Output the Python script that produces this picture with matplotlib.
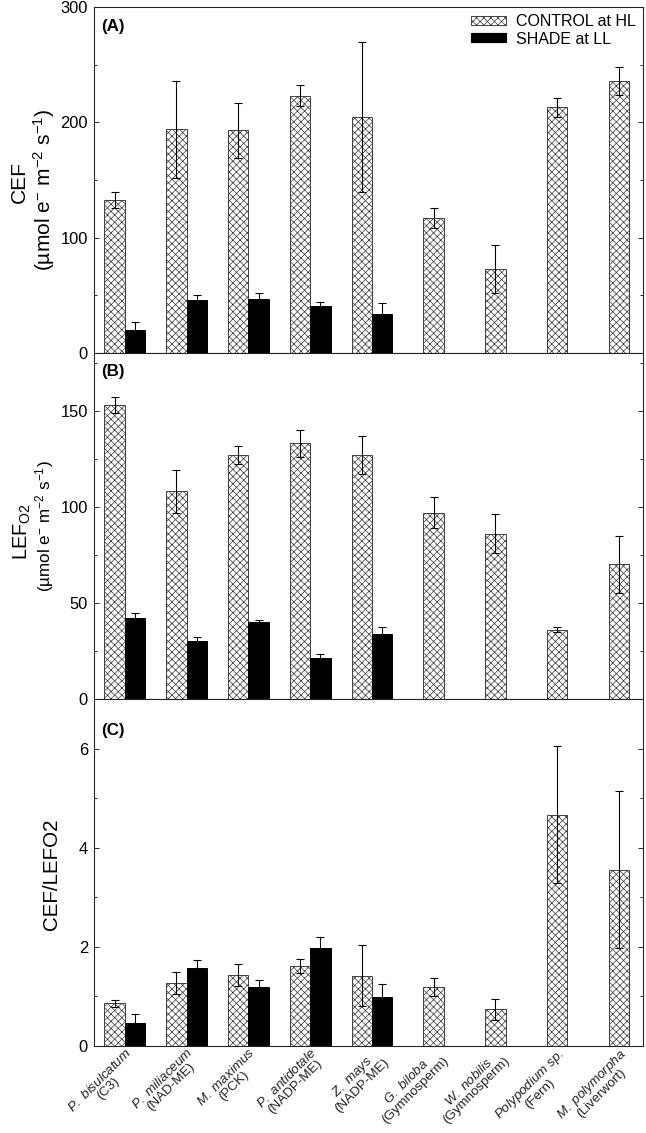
import matplotlib
matplotlib.use('Agg')
import matplotlib.pyplot as plt
from matplotlib.patches import Patch
from matplotlib.ticker import MultipleLocator
import numpy as np

DPI = 86
W, H = 646, 1133


def pt(px):
    return px * 72.0 / DPI


plt.rcParams['font.family'] = ['Liberation Sans', 'DejaVu Sans']
plt.rcParams['mathtext.fontset'] = 'custom'
plt.rcParams['mathtext.rm'] = 'Liberation Sans'
plt.rcParams['mathtext.it'] = 'Liberation Sans:italic'
plt.rcParams['mathtext.bf'] = 'Liberation Sans:bold'
plt.rcParams['hatch.linewidth'] = 0.6

# ---------------- data ----------------
species = ["P. bisulcatum", "P. miliaceum", "M. maximus", "P. antidotale", "Z. mays",
           "G. biloba", "W. nobilis", "Polypodium sp.", "M. polymorpha"]
groups = ["(C3)", "(NAD-ME)", "(PCK)", "(NADP-ME)", "(NADP-ME)",
          "(Gymnosperm)", "(Gymnosperm)", "(Fern)", "(Liverwort)"]

cef_control = [133, 194, 193, 223, 205, 117, 73, 213, 236]
cef_control_err = [7, 42, 24, 9, 65, 9, 21, 8, 12]
cef_shade = [20, 46, 47, 41, 34]
cef_shade_err = [7, 4.5, 5, 3, 9]

lef_control = [153, 108, 127, 133, 127, 97, 86, 36, 70]
lef_control_err = [4, 11, 4.5, 7, 10, 8, 10, 1.4, 15]
lef_shade = [42, 30, 40, 21.5, 34]
lef_shade_err = [3, 2.3, 1, 2, 3.5]

ratio_control = [0.86, 1.27, 1.43, 1.61, 1.42, 1.19, 0.74, 4.67, 3.56]
ratio_control_err = [0.07, 0.22, 0.22, 0.14, 0.61, 0.19, 0.21, 1.38, 1.59]
ratio_shade = [0.46, 1.57, 1.19, 1.97, 0.99]
ratio_shade_err = [0.18, 0.17, 0.14, 0.22, 0.27]

legend_labels = ["CONTROL at HL", "SHADE at LL"]

# ---------------- figure ----------------
fig = plt.figure(figsize=(W / DPI, H / DPI), dpi=DPI)

left_px, right_px = 94, 643
panel_px = [(7, 353), (353, 699), (699, 1046)]
axes = []
for top, bot in panel_px:
    ax = fig.add_axes([left_px / W, 1 - bot / H, (right_px - left_px) / W, (bot - top) / H])
    axes.append(ax)

bw = 0.33
HATCH_C = '#3c3c3c'
HATCH = 'xxxx'


def draw_panel(ax, ctrl, ctrl_err, shade, shade_err):
    n = len(ctrl)
    ns = len(shade)
    idx = np.arange(n)
    xc = np.where(idx < ns, idx - bw / 2, idx).astype(float)
    xs = np.arange(ns) + bw / 2
    ax.bar(xc, ctrl, width=bw, facecolor='white', edgecolor=HATCH_C, hatch=HATCH,
           linewidth=0.8, zorder=2)
    ax.bar(xs, shade, width=bw, facecolor='black', edgecolor='black',
           linewidth=0.8, zorder=2)
    ax.errorbar(xc, ctrl, yerr=ctrl_err, fmt='none', ecolor='black', elinewidth=0.9,
                capsize=pt(3.8), capthick=0.9, zorder=3)
    ax.errorbar(xs, shade, yerr=shade_err, fmt='none', ecolor='black', elinewidth=0.9,
                capsize=pt(3.8), capthick=0.9, zorder=3)
    ax.set_xlim(-0.5, 8.39)
    for s in ax.spines.values():
        s.set_linewidth(0.9)
        s.set_color('#222222')
    ax.tick_params(which='both', direction='in', left=True, right=True,
                   bottom=False, top=False, labelsize=pt(16.5), colors='#222222',
                   width=0.8)
    ax.tick_params(which='major', length=pt(5), pad=pt(6))
    ax.tick_params(which='minor', length=pt(3))
    ax.tick_params(axis='y', labelcolor='black')


draw_panel(axes[0], cef_control, cef_control_err, cef_shade, cef_shade_err)
draw_panel(axes[1], lef_control, lef_control_err, lef_shade, lef_shade_err)
draw_panel(axes[2], ratio_control, ratio_control_err, ratio_shade, ratio_shade_err)

axes[0].set_ylim(0, 300)
axes[0].yaxis.set_major_locator(MultipleLocator(100))
axes[0].yaxis.set_minor_locator(MultipleLocator(50))
axes[1].set_ylim(0, 180)
axes[1].yaxis.set_major_locator(MultipleLocator(50))
axes[1].yaxis.set_minor_locator(MultipleLocator(25))
axes[2].set_ylim(0, 7)
axes[2].yaxis.set_major_locator(MultipleLocator(2))
axes[2].yaxis.set_minor_locator(MultipleLocator(1))

for ax in axes[:2]:
    ax.set_xticks([])

# x tick labels on bottom panel
xlabels = ["$\\mathit{" + s.replace(" ", "\\ ") + "}$\n" + g for s, g in zip(species, groups)]
axes[2].set_xticks(np.arange(len(species)))
axes[2].set_xticklabels(xlabels, rotation=45, ha='right', rotation_mode='anchor',
                        multialignment='center', fontsize=pt(13.4), linespacing=0.88)
axes[2].tick_params(axis='x', length=0, pad=0)

# panel letters
for i, (lab, off) in enumerate(zip(["(A)", "(B)", "(C)"], [12, 11, 24])):
    top, bot = panel_px[i]
    axes[i].text(0.013, 1 - off / (bot - top), lab, transform=axes[i].transAxes,
                 fontsize=pt(17), fontweight='bold', va='top', ha='left')

# legend
handles = [Patch(facecolor='white', edgecolor=HATCH_C, hatch=HATCH, linewidth=0.8),
           Patch(facecolor='black', edgecolor='black')]
axes[0].legend(handles, legend_labels, loc='upper right', frameon=False,
               fontsize=pt(16), handlelength=2.2, handleheight=0.5,
               handletextpad=0.6, labelspacing=0.15, borderaxespad=0.15,
               borderpad=0.3)


def ftext(xp, yp, s, size, **kw):
    fig.text(xp / W, 1 - yp / H, s, fontsize=pt(size), rotation=90,
             ha='center', va='center', **kw)


unit = "(\u00b5mol e$^{-}$ m$^{-2}$ s$^{-1}$)"
ftext(19, 182, "CEF", 21)
ftext(44, 190, unit, 21)
ftext(22, 532, "LEF$_{\\mathrm{O2}}$", 20)
ftext(45, 526, unit, 17)
ftext(52, 874, "CEF/LEFO2", 20.5)

fig.savefig("out.png", dpi=DPI)
